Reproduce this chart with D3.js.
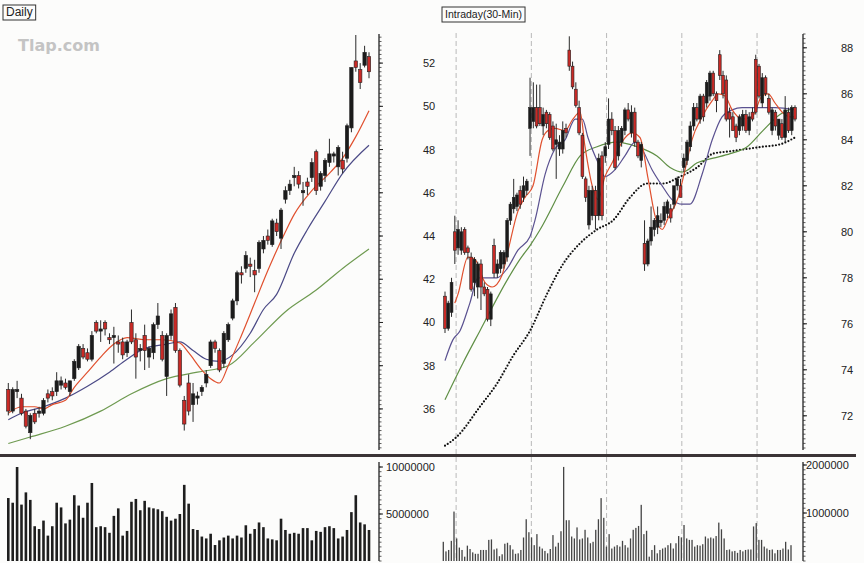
<!DOCTYPE html>
<html>
<head>
<meta charset="utf-8">
<script src="https://cdn.jsdelivr.net/npm/d3@7/dist/d3.min.js"></script>
<style>
  body { margin: 0; background: #fcfcfb; }
  svg text { font-family: "Liberation Sans", Arial, sans-serif; fill: #222; }
</style>
</head>
<body>
<div id="chart"></div>
<script>
// ---- Daily panel data (open, high, low, close) ----
var dailyOHLC = [
  [36.9,37.2,35.7,35.9],[35.9,37.0,35.8,36.9],[36.8,37.3,36.5,36.9],[36.5,36.7,35.7,35.8],
  [35.9,36.0,35.1,35.2],[34.9,35.8,34.6,35.7],[35.8,36.0,35.3,35.4],[35.8,36.1,35.6,35.9],
  [35.8,36.5,35.7,36.4],[36.7,36.9,36.3,36.5],[36.8,37.0,36.4,36.6],[36.8,37.7,36.6,37.3],
  [37.1,37.5,36.9,37.3],[37.2,37.4,36.9,37.0],[36.8,37.3,36.6,37.3],[37.4,38.3,37.3,38.2],
  [37.9,39.0,37.8,38.9],[38.8,39.0,38.3,38.4],[38.6,38.8,38.2,38.3],[38.3,39.6,38.2,39.4],
  [40.0,40.1,39.5,39.6],[39.6,40.1,39.1,39.7],[40.0,40.1,39.4,39.7],[39.3,39.5,39.0,39.2],
  [39.3,39.8,38.1,39.4],[39.1,39.4,38.6,39.0],[39.1,39.3,38.3,38.5],[38.6,39.2,38.4,39.1],
  [40.0,40.6,39.0,39.1],[39.2,39.5,37.4,38.4],[38.7,39.0,38.2,38.8],[39.4,39.9,37.8,38.7],
  [38.4,38.9,37.9,38.8],[38.6,40.0,38.3,39.9],[39.9,40.9,39.7,40.3],[39.4,39.6,38.2,38.3],
  [37.5,39.5,36.6,39.4],[39.4,40.6,39.2,40.4],[40.7,40.9,38.6,38.7],[38.7,38.8,37.0,37.1],
  [36.4,36.6,35.0,35.3],[37.2,37.6,35.7,35.9],[36.2,37.2,35.4,36.7],[36.5,36.8,36.2,36.6],
  [36.8,37.1,36.6,37.0],[37.2,37.8,37.0,37.6],[38.0,39.2,37.9,39.1],[39.1,39.2,38.6,38.8],
  [38.7,38.8,37.7,37.8],[38.1,39.6,37.9,39.5],[39.2,40.0,39.1,39.9],[40.2,41.1,40.1,41.0],
  [41.0,42.4,40.8,42.3],[42.3,42.6,41.8,42.2],[42.5,43.3,42.3,43.1],[42.7,43.0,42.1,42.6],
  [42.4,42.9,41.4,42.2],[42.5,43.8,42.3,43.7],[43.4,44.0,43.2,43.8],[44.0,44.3,43.6,43.8],
  [43.6,44.8,43.5,44.7],[44.6,44.8,44.0,44.2],[43.9,45.3,43.4,45.2],[45.7,46.3,45.5,46.1],
  [46.1,46.6,45.9,46.4],[46.7,47.2,46.3,46.8],[46.8,47.0,46.2,46.4],[46.0,46.5,45.4,46.1],
  [46.5,46.7,45.9,46.3],[46.7,47.6,46.5,47.4],[47.9,48.0,45.9,46.1],[46.3,47.0,46.1,46.9],
  [46.8,47.6,46.5,47.5],[47.4,48.5,47.2,47.8],[47.7,47.9,47.4,47.8],[47.2,48.2,46.8,48.1],
  [47.5,47.9,46.9,47.1],[47.6,49.2,47.4,49.1],[49.0,51.8,48.8,51.8],[52.1,53.3,51.6,51.8],
  [51.7,52.0,50.8,51.1],[51.9,52.8,51.8,52.5],[52.3,52.5,51.3,51.6]
];
// daily volume, millions of shares
var dailyVolume = [
  6.7,6.2,10.0,6.0,7.3,6.5,3.7,3.4,4.3,2.7,3.7,6.2,5.7,4.0,4.4,7.0,5.9,4.6,6.2,8.3,
  3.6,3.7,3.6,3.0,4.8,5.6,2.7,3.2,6.3,6.6,5.4,6.4,5.7,5.6,5.5,5.3,4.7,4.3,4.5,5.0,
  8.1,6.1,3.4,3.3,2.6,2.4,2.9,1.7,2.2,2.5,2.7,2.4,2.7,2.5,3.8,2.9,3.4,4.1,3.6,2.4,
  2.3,2.2,4.5,3.3,2.9,3.0,2.9,3.5,3.5,2.2,3.2,3.1,3.6,3.7,3.5,2.4,2.6,3.3,5.2,7.0,
  4.1,3.9,3.3
];
// moving averages: [bar index, price]
var dailyMaRed = [[0,35.8],[3,36.1],[6,36.1],[8,36.0],[10,36.2],[13,36.4],[15,37.0],[18,37.7],
  [21,38.4],[24,39.0],[27,39.3],[31,39.2],[35,39.2],[39,39.05],[41,38.6],[44,37.8],[46,37.4],
  [48,37.2],[50,38.0],[53,39.4],[56,40.9],[59,42.4],[63,44.2],[65,45.0],[69,46.1],[73,46.9],
  [76,47.6],[79,48.6],[82,49.8]];
var dailyMaBlue = [[0,35.5],[3,35.8],[8,36.1],[13,36.5],[18,37.05],[23,37.7],[27,38.3],[31,38.8],
  [36,39.0],[39,39.1],[42,38.7],[45,38.3],[48,38.2],[51,38.5],[55,39.5],[58,40.6],[61,41.3],
  [65,43.2],[68,44.3],[72,45.6],[76,46.9],[82,48.2]];
var dailyMaGreen = [[0,34.4],[5,34.7],[13,35.2],[21,35.9],[28,36.7],[36,37.4],[43,37.7],[50,38.0],
  [56,39.1],[63,40.5],[70,41.5],[76,42.5],[82,43.4]];
var dailyPriceTicks = [36,38,40,42,44,46,48,50,52];
var dailyVolTicks = [5,10];

// ---- Intraday (30-min) panel data ----
var intraOHLC = [
  [77.2,77.4,75.6,75.8],[75.8,77.0,75.7,76.9],[76.5,78.0,76.3,77.8],[80.0,80.7,78.6,79.2],
  [79.3,80.5,79.0,80.1],[79.2,80.2,79.0,80.0],[80.1,80.2,79.0,79.1],[79.3,79.4,78.8,79.1],
  [78.9,79.1,77.4,77.5],[77.8,78.9,77.2,78.8],[77.6,78.7,77.1,78.6],[78.6,78.8,76.6,77.6],
  [77.6,77.8,77.2,77.3],[77.5,77.6,76.1,76.2],[76.2,77.4,75.9,77.3],[79.4,79.7,78.0,78.2],
  [78.2,78.8,78.0,78.6],[78.4,79.2,78.2,79.1],[78.6,79.2,78.4,79.1],[78.9,80.6,78.7,80.5],
  [80.5,81.3,80.3,81.2],[81.0,82.3,80.8,81.5],[81.1,81.7,80.9,81.6],[81.8,82.0,81.0,81.2],
  [81.5,82.4,81.3,82.0],[81.8,82.3,81.6,82.2],[84.5,86.7,83.3,85.4],[84.8,86.5,84.5,85.4],
  [85.4,86.4,84.5,84.6],[85.4,86.4,84.6,84.7],[84.6,85.4,84.2,85.1],[85.2,85.3,84.5,84.7],
  [85.1,85.2,84.0,84.1],[84.6,84.8,83.5,83.6],[83.8,84.7,82.3,84.0],[83.6,84.2,83.3,83.9],
  [83.6,84.8,83.4,84.4],[84.5,84.7,84.1,84.3],[87.9,88.5,87.0,87.2],[87.2,87.4,86.2,86.3],
  [86.2,86.5,85.4,85.5],[85.4,85.7,84.2,84.3],[84.2,84.3,82.3,82.4],[82.3,82.4,81.3,81.5],
  [80.3,82.0,80.1,81.8],[80.7,82.0,80.5,81.8],[81.8,82.0,80.1,80.7],[80.7,83.4,80.5,83.2],
  [83.3,83.5,80.5,80.7],[83.3,83.9,83.0,83.7],[83.8,85.8,83.6,84.9],[84.9,85.2,84.2,84.4],
  [84.4,84.6,82.7,82.8],[83.3,84.6,83.1,84.4],[83.9,84.6,83.7,84.5],[84.4,85.4,84.2,85.3],
  [85.3,85.6,84.8,84.9],[84.3,85.5,84.1,85.2],[85.2,85.4,83.7,83.9],[83.9,84.0,83.2,83.3],
  [83.1,83.9,82.8,83.8],[79.5,80.5,78.3,78.6],[78.6,79.7,78.5,79.6],[79.6,81.1,79.4,80.2],
  [80.1,80.6,79.8,80.5],[80.2,81.1,79.9,80.7],[80.4,80.8,80.2,80.5],[80.5,81.3,80.3,81.1],
  [80.8,81.4,80.6,81.3],[81.0,81.2,80.4,80.6],[81.2,82.0,81.0,82.0],[82.0,82.4,81.8,82.3],
  [82.0,82.3,81.5,81.5],[82.8,83.4,82.6,83.2],[83.1,84.0,82.9,83.9],[83.7,84.8,83.5,84.6],
  [84.6,85.6,84.4,85.4],[85.4,85.6,84.8,84.9],[84.9,86.0,84.7,85.9],[85.9,86.0,84.8,85.0],
  [85.6,86.6,85.4,86.5],[85.9,87.0,85.7,86.9],[86.9,87.0,85.9,86.0],[86.0,86.1,85.2,85.7],
  [87.7,87.9,86.6,86.8],[86.8,87.0,85.8,86.0],[86.6,86.8,84.8,84.9],[85.2,85.4,84.1,84.9],
  [85.0,85.2,84.4,84.4],[84.6,84.7,83.9,84.1],[84.4,85.1,84.2,85.0],[84.6,85.3,84.4,85.1],
  [85.1,85.3,84.3,84.4],[84.4,85.2,84.2,85.0],[85.2,85.4,84.8,84.9],[87.5,87.7,85.1,85.2],
  [87.2,87.3,85.8,85.9],[85.6,86.9,85.4,86.7],[86.7,86.8,85.9,86.0],[85.8,86.0,85.1,85.2],
  [84.4,85.4,84.2,85.3],[85.2,85.3,84.4,84.6],[84.2,84.9,84.0,84.9],[84.7,84.9,84.0,84.1],
  [84.1,85.9,83.9,85.3],[85.2,85.4,84.3,84.4],[84.4,85.5,84.2,85.4],[85.4,85.5,84.8,84.9]
];
// intraday volume, millions of shares
var intraVolume = [
  0.40,0.20,0.23,0.42,1.03,0.47,0.28,0.23,0.09,0.32,0.25,0.18,0.15,0.15,0.23,0.23,0.23,0.44,0.45,0.24,
  0.26,0.10,0.14,0.36,0.38,0.33,0.24,0.15,0.16,0.23,0.49,0.87,0.60,0.49,0.33,0.56,0.30,0.26,0.21,0.16,
  0.25,0.54,0.30,0.38,0.62,1.96,0.85,0.85,0.51,0.47,0.70,0.45,0.47,0.65,0.49,0.37,0.40,0.65,0.87,1.31,
  0.90,0.30,0.56,0.26,0.30,0.33,0.30,0.42,0.33,0.28,0.47,0.65,0.69,0.73,1.17,0.56,0.63,0.09,0.23,0.33,
  0.16,0.23,0.26,0.28,0.33,0.37,0.26,0.37,0.52,0.49,0.75,0.47,0.44,0.44,0.30,0.33,0.32,0.35,0.51,0.47,
  0.49,0.47,0.52,0.80,0.66,0.47,0.23,0.24,0.20,0.21,0.17,0.23,0.20,0.23,0.24,0.24,0.72,0.79,0.44,0.44,
  0.30,0.26,0.23,0.24,0.16,0.23,0.23,0.26,0.40,0.24,0.33
];
var intraMaRed = [[3,76.9],[4,77.3],[7,78.9],[9.2,78.8],[12.2,77.8],[14.4,77.6],[17.4,78.1],[19.3,79.2],
  [22.3,80.9],[24.5,81.5],[26.9,82.0],[29.7,84.0],[31.5,84.4],[33.6,84.5],[36.7,84.4],[39.1,84.9],
  [41.3,85.2],[42.8,83.7],[45,82.0],[46.8,81.4],[48.9,82.4],[51.1,83.0],[54.1,83.9],[57.2,84.3],
  [59.6,84.1],[62.1,82.3],[64.2,80.7],[66.4,80.1],[68.2,80.6],[71.3,81.5],[73.4,82.7],[75.5,84.0],
  [78.6,85.0],[81.7,85.7],[83.5,86.0],[85.6,85.9],[87.8,85.3],[90.8,84.9],[93.9,85.0],[96.9,85.9],
  [98.8,86.0],[100.9,85.6],[103.1,85.2],[105.5,85.0],[107,85.0]];
var intraMaBlue = [[0,74.4],[2.4,75.3],[4.6,75.7],[7.6,76.9],[10.1,78.0],[15.9,78.0],[19,78.4],
  [22.3,79.2],[26,79.8],[27.5,80.5],[30.6,82.5],[33.6,83.6],[36.7,84.0],[39.8,84.9],[42,84.9],
  [43.7,84.1],[46.8,83.0],[48.9,82.4],[52,82.7],[55,83.3],[58.1,83.9],[60.2,83.6],[63.3,82.7],
  [66.4,82.0],[69.4,81.4],[72.5,81.2],[74.9,81.2],[78.6,82.5],[81.7,84.0],[84.7,85.0],[87.8,85.3],
  [90.8,85.4],[96.9,85.4],[100.9,85.4],[107,85.3]];
var intraMaGreen = [[0,72.7],[5.5,74.3],[10.7,75.7],[19,77.9],[22.9,78.8],[26,79.4],[29.1,80.1],
  [36.1,82.0],[41.3,83.3],[46.5,83.7],[52.6,83.9],[58.7,83.7],[64.8,83.3],[68.8,82.8],[72.8,82.6],
  [77.1,83.0],[82,83.2],[87.2,83.4],[92.4,83.7],[97.2,84.4],[102.4,85.1],[107,85.4]];
var intraMaDotted = [[0,70.7],[3.7,71.1],[10.7,72.4],[15.9,73.4],[20.8,74.6],[26,75.7],[31.2,77.3],
  [36.1,78.6],[41.3,79.5],[46.5,80.1],[51.4,80.5],[56.6,81.5],[61.8,82.1],[66.7,82.1],[71.9,82.4],
  [77.1,82.8],[82,83.4],[87.2,83.5],[97.2,83.7],[102.4,83.8],[107,84.1]];
var intraSessionBreaks = [3.4, 26.4, 49.4, 72.4, 95.4];
var intraPriceTicks = [72,74,76,78,80,82,84,86,88];
var intraVolTicks = [1,2];

var width = 864, height = 563;
var svg = d3.select("#chart").append("svg")
    .attr("width", width)
    .attr("height", height);

svg.append("rect").attr("width", width).attr("height", height).attr("fill", "#fcfcfb");

// watermark
svg.append("text").attr("x", 18).attr("y", 51)
    .style("font-family", "Verdana, 'DejaVu Sans', sans-serif")
    .style("font-size", "16px").style("font-weight", "bold")
    .style("fill", "#c4c4c4").text("Tlap.com");

var UP = "#1b1b1b", DOWN = "#c92a26";

function drawPanel(cfg) {
    var g = svg.append("g");
    var x = d3.scaleLinear().domain([0, cfg.ohlc.length - 1]).range(cfg.xRange);
    var y = d3.scaleLinear().domain(cfg.priceDomain).range([cfg.priceBottom, cfg.priceTop]);
    var xv = d3.scaleLinear().domain([0, cfg.volume.length - 1]).range(cfg.volXRange);
    var yv = d3.scaleLinear().domain([0, cfg.volMax]).range([561, cfg.volTopPx]);

    // session separators
    if (cfg.breaks) {
        g.selectAll(".brk").data(cfg.breaks).join("line")
            .attr("x1", d => x(d)).attr("x2", d => x(d))
            .attr("y1", 33).attr("y2", 561)
            .attr("stroke", "#b9b9b9").attr("stroke-width", 1)
            .attr("stroke-dasharray", "5,3");
    }

    // moving averages
    var line = d3.line().x(d => x(d[0])).y(d => y(d[1])).curve(d3.curveMonotoneX);
    cfg.mas.forEach(function(m) {
        g.append("path").datum(m.data)
            .attr("d", line)
            .attr("fill", "none")
            .attr("stroke", m.color)
            .attr("stroke-width", m.width || 1.2)
            .attr("stroke-linecap", m.dots ? "round" : "butt")
            .attr("stroke-dasharray", m.dots ? "0,3.3" : null);
    });

    // candles
    var cw = cfg.candleWidth;
    var c = g.selectAll(".candle").data(cfg.ohlc).join("g");
    c.append("line")
        .attr("x1", (d, i) => x(i)).attr("x2", (d, i) => x(i))
        .attr("y1", d => y(d[1])).attr("y2", d => y(d[2]))
        .attr("stroke", "#2a2a2a").attr("stroke-width", 1);
    c.append("rect")
        .attr("x", (d, i) => x(i) - cw / 2)
        .attr("width", cw)
        .attr("y", d => y(Math.max(d[0], d[3])))
        .attr("height", d => Math.max(1, Math.abs(y(d[0]) - y(d[3]))))
        .attr("fill", d => d[3] >= d[0] ? UP : DOWN)
        .attr("stroke", "#222").attr("stroke-width", 0.6);

    // volume bars
    g.selectAll(".vol").data(cfg.volume).join("rect")
        .attr("x", (d, i) => xv(i) - cfg.volWidth / 2)
        .attr("width", cfg.volWidth)
        .attr("y", d => yv(d))
        .attr("height", d => 561 - yv(d))
        .attr("fill", cfg.volColor);

    // price axis
    var ax = cfg.axisX;
    g.append("line").attr("x1", ax).attr("x2", ax).attr("y1", 34).attr("y2", 450)
        .attr("stroke", "#222").attr("stroke-width", 1.3);
    var minor = d3.range(Math.ceil(cfg.priceDomain[0] * 5), Math.floor(cfg.priceDomain[1] * 5) + 1).map(d => d / 5);
    g.selectAll(".pmin").data(minor).join("line")
        .attr("x1", ax).attr("x2", ax + 2.5)
        .attr("y1", d => y(d)).attr("y2", d => y(d))
        .attr("stroke", "#333").attr("stroke-width", 0.8);
    g.selectAll(".pmaj").data(cfg.priceTicks).join("line")
        .attr("x1", ax).attr("x2", ax + 4)
        .attr("y1", d => y(d)).attr("y2", d => y(d))
        .attr("stroke", "#222").attr("stroke-width", 1);
    g.selectAll(".plab").data(cfg.priceTicks).join("text")
        .attr("x", cfg.labelX).attr("y", d => y(d) + 4)
        .style("font-size", "11px")
        .text(d => d);

    // volume axis
    g.append("line").attr("x1", ax).attr("x2", ax).attr("y1", 462).attr("y2", 561)
        .attr("stroke", "#222").attr("stroke-width", 1.3);
    var vminor = d3.range(0, Math.floor(cfg.volMax / cfg.volMinor) + 1).map(d => d * cfg.volMinor);
    g.selectAll(".vmin").data(vminor).join("line")
        .attr("x1", ax).attr("x2", ax + 2.5)
        .attr("y1", d => yv(d)).attr("y2", d => yv(d))
        .attr("stroke", "#333").attr("stroke-width", 0.8);
    g.selectAll(".vmaj").data(cfg.volTicks).join("line")
        .attr("x1", ax).attr("x2", ax + 4)
        .attr("y1", d => yv(d)).attr("y2", d => yv(d))
        .attr("stroke", "#222");
    g.selectAll(".vlab").data(cfg.volTicks).join("text")
        .attr("x", cfg.volLabelX).attr("y", d => yv(d) + 4)
        .style("font-size", "11px")
        .text(d => String(Math.round(d * 1000000)));

    // title box
    var t = g.append("text").attr("x", cfg.title.x + 3).attr("y", cfg.title.y + 11)
        .style("font-size", cfg.title.size).text(cfg.title.text);
    var bb = t.node().getBBox();
    g.insert("rect", "text")
        .attr("x", cfg.title.x).attr("y", cfg.title.y)
        .attr("width", bb.width + 6).attr("height", 15)
        .attr("fill", "#fcfcfb").attr("stroke", "#333").attr("stroke-width", 1);
}

drawPanel({
    ohlc: dailyOHLC, volume: dailyVolume,
    xRange: [8.3, 369], volXRange: [8.3, 369],
    priceDomain: [34.1, 53.3], priceTop: 35, priceBottom: 450,
    volMax: 10, volTopPx: 467, volMinor: 0.5,
    candleWidth: 3.4, volWidth: 2.6, volColor: "#1e1e1e",
    axisX: 379, labelX: 423, volLabelX: 386,
    priceTicks: dailyPriceTicks, volTicks: dailyVolTicks,
    mas: [
        {data: dailyMaGreen, color: "#6e9a50"},
        {data: dailyMaBlue, color: "#4b4a86"},
        {data: dailyMaRed, color: "#e0502e"}
    ],
    title: {x: 3, y: 5, text: "Daily", size: "12px"}
});

drawPanel({
    ohlc: intraOHLC, volume: intraVolume,
    xRange: [445, 795], volXRange: [443.3, 791],
    priceDomain: [70.6, 88.6], priceTop: 34, priceBottom: 448,
    volMax: 2, volTopPx: 465, volMinor: 0.1,
    candleWidth: 2.8, volWidth: 1.3, volColor: "#444",
    axisX: 803, labelX: 841, volLabelX: 806,
    priceTicks: intraPriceTicks, volTicks: intraVolTicks,
    breaks: intraSessionBreaks,
    mas: [
        {data: intraMaDotted, color: "#111", width: 2.2, dots: true},
        {data: intraMaGreen, color: "#5f8f45"},
        {data: intraMaBlue, color: "#5a5190"},
        {data: intraMaRed, color: "#e0502e"}
    ],
    title: {x: 442, y: 7, text: "Intraday(30-Min)", size: "10.5px"}
});

// divider between price and volume panes
svg.append("rect").attr("x", 0).attr("y", 454).attr("width", 856).attr("height", 3)
    .attr("fill", "#3b3436");
</script>
</body>
</html>
